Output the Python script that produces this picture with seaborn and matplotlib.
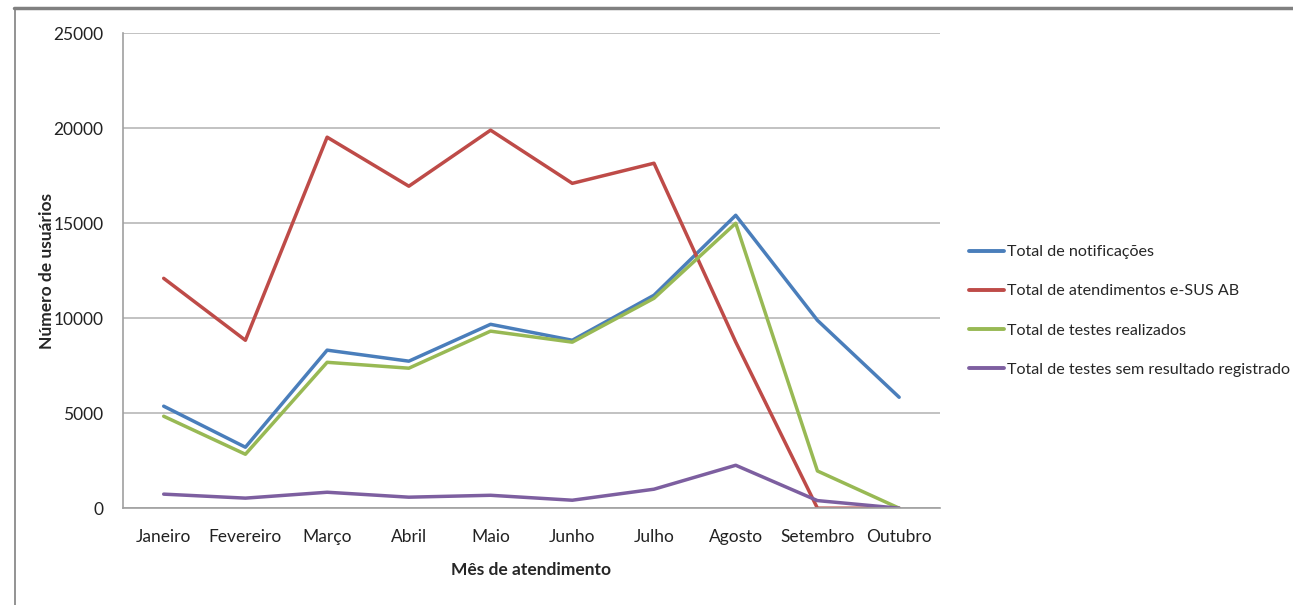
import pandas as pd
import matplotlib
matplotlib.use("Agg")
import matplotlib.pyplot as plt
from matplotlib.lines import Line2D
import seaborn as sns

months = ["Janeiro", "Fevereiro", "Março", "Abril", "Maio", "Junho",
          "Julho", "Agosto", "Setembro", "Outubro"]
notificacoes = [5370, 3210, 8320, 7740, 9680, 8840, 11210, 15420, 9890, 5840]
atendimentos = [12100, 8840, 19530, 16950, 19900, 17100, 18160, 8750, 0, 0]
testes = [4840, 2840, 7680, 7370, 9320, 8740, 11050, 15000, 1960, 0]
sem_resultado = [740, 530, 840, 580, 680, 420, 1000, 2260, 400, 0]

series_names = ["Total de notificações", "Total de atendimentos e-SUS AB",
                "Total de testes realizados", "Total de testes sem resultado registrado"]
colors = ["#4A7EBB", "#BE4B48", "#98B954", "#7D5FA0"]

df = pd.DataFrame({"mes": months,
                   series_names[0]: notificacoes,
                   series_names[1]: atendimentos,
                   series_names[2]: testes,
                   series_names[3]: sem_resultado})
long = df.melt(id_vars="mes", var_name="serie", value_name="valor")

sns.set_style("white")
plt.rcParams["font.family"] = ["Lato", "DejaVu Sans"]

fig = plt.figure(figsize=(12.93, 6.05), dpi=100)
ax = fig.add_axes([0.095, 0.160, 0.632, 0.785])

sns.lineplot(data=long, x="mes", y="valor", hue="serie", palette=colors,
             linewidth=2.5, sort=False, ax=ax, legend=False)

ax.set_ylim(0, 25000)
ax.set_xlim(-0.5, 9.5)
ax.set_yticks(range(0, 25001, 5000))
ax.set_xticks(range(len(months)))
ax.set_xticklabels(months)
ax.set_xticks([i - 0.5 for i in range(len(months) + 1)], minor=True)
ax.tick_params(axis="x", which="major", length=0, pad=15, labelsize=12.5, colors="#222222")
ax.tick_params(axis="x", which="minor", length=6, color="#999999", width=1)
ax.tick_params(axis="y", length=6, color="#999999", width=1, labelsize=12.5, colors="#222222", pad=8)
ax.yaxis.grid(True, color="#BDBDBD", linewidth=1.3)
ax.set_axisbelow(True)

for s in ["top", "right"]:
    ax.spines[s].set_visible(False)
for s in ["left", "bottom"]:
    ax.spines[s].set_color("#A0A0A0")
    ax.spines[s].set_linewidth(1.2)

ax.set_xlabel("Mês de atendimento", fontsize=12.5, fontweight="bold", labelpad=12)
ax.set_ylabel("Número de usuários", fontsize=12.5, fontweight="bold")
ax.yaxis.set_label_coords(-0.083, 0.5)

handles = [Line2D([0], [0], color=c, lw=2.8) for c in colors]
fig.legend(handles, series_names, loc="center left", bbox_to_anchor=(0.738, 0.486),
           frameon=False, fontsize=11.6, handlelength=2.2, handletextpad=0.2,
           labelspacing=1.55)

# outer chart border (top and left)
fig.add_artist(Line2D([0.011, 1.0], [0.987, 0.987], color="#808080", lw=2.5,
                      transform=fig.transFigure))
fig.add_artist(Line2D([0.0115, 0.0115], [0.0, 0.987], color="#808080", lw=1.2,
                      transform=fig.transFigure))

fig.savefig("out.png", dpi=100)
